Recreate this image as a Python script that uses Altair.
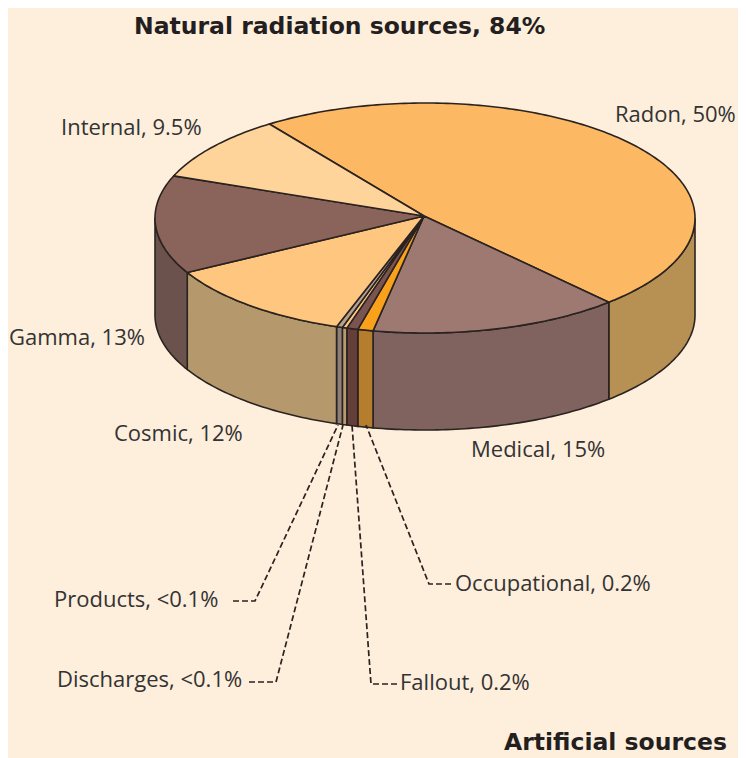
import math
import altair as alt
import pandas as pd

# Slices clockwise, as drawn in the picture
slices = ["Radon", "Medical", "Occupational", "Fallout", "Discharges", "Products", "Cosmic", "Gamma", "Internal"]
drawn_share = [47.86, 15.0, 0.92, 0.67, 0.28, 0.36, 11.83, 13.83, 9.25]
top_colors = ["#FDB863", "#9E7971", "#F9A11B", "#7B5350", "#FEC67E", "#B8A090", "#FEC67E", "#8A635A", "#FFD49B"]
side_colors = ["#B79153", "#80625E", "#B47E2E", "#643F3A", "#B59A6E", "#8E7F7A", "#B5996C", "#6C524D", "#6C524D"]
start_angle = -35.2

# Text labels
label_texts = ["Radon, 50%", "Internal, 9.5%", "Gamma, 13%", "Cosmic, 12%", "Medical, 15%",
               "Occupational, 0.2%", "Products, <0.1%", "Discharges, <0.1%", "Fallout, 0.2%"]
label_x = [615, 61, 9, 114, 471, 455, 54, 57, 400]
label_y = [115, 128, 338, 434, 450, 584, 600, 680, 683]

# Leader lines: label end, elbow, slice foot
leader_names = ["Products", "Discharges", "Fallout", "Occupational"]
leader_x = [[233, 255, 338], [249, 276, 343], [397, 371, 352], [451, 429, 366]]
leader_y = [[601, 601, 425], [682, 682, 425], [684, 684, 425], [584, 584, 425]]

CX, CY, RX, RY, DEPTH = 425, 218, 270, 115, 97
APEX = (424, 216)
BG = "#FEEEDC"
INK = "#2A2320"
FONT = "Open Sans"

xs = alt.Scale(domain=[8, 738])
ys = alt.Scale(domain=[758, 8])


def rim(t, drop=0):
    r = math.radians(t)
    return CX + RX * math.sin(r), CY - RY * math.cos(r) + drop


def arc_angles(a, b):
    n = max(2, int(abs(b - a)) + 2)
    return [a + (b - a) * i / (n - 1) for i in range(n)]


def polygon(points, fill, width=1.6):
    df = pd.DataFrame({"x": [p[0] for p in points], "y": [p[1] for p in points], "i": range(len(points))})
    return alt.Chart(df).mark_line(fill=fill, stroke=INK, strokeWidth=width, strokeJoin="round").encode(
        x=alt.X("x:Q", scale=xs, axis=None),
        y=alt.Y("y:Q", scale=ys, axis=None),
        order=alt.Order("i:Q"),
    )


bounds = [start_angle]
for s in drawn_share:
    bounds.append(bounds[-1] + s * 3.6)

layers = []
# Side walls: only the part of the rim facing the viewer
for i in range(len(slices)):
    a, b = max(bounds[i], 90), min(bounds[i + 1], 270)
    if a >= b:
        continue
    ang = arc_angles(a, b)
    pts = [rim(t) for t in ang] + [rim(t, DEPTH) for t in reversed(ang)]
    pts.append(pts[0])
    layers.append(polygon(pts, side_colors[i]))

# Top face
for i in range(len(slices)):
    ang = arc_angles(bounds[i], bounds[i + 1])
    pts = [APEX] + [rim(t) for t in ang] + [APEX]
    layers.append(polygon(pts, top_colors[i]))

# Leader lines
for name, lx, ly in zip(leader_names, leader_x, leader_y):
    df = pd.DataFrame({"x": lx, "y": ly, "i": range(len(lx))})
    layers.append(alt.Chart(df).mark_line(color=INK, strokeWidth=1.7, strokeDash=[6, 3]).encode(
        x=alt.X("x:Q", scale=xs, axis=None),
        y=alt.Y("y:Q", scale=ys, axis=None),
        order=alt.Order("i:Q"),
    ))

# Labels
labels = pd.DataFrame({"t": label_texts, "x": label_x, "y": label_y})
layers.append(alt.Chart(labels).mark_text(align="left", baseline="middle", font=FONT, fontSize=22, color="#333333").encode(
    x=alt.X("x:Q", scale=xs, axis=None), y=alt.Y("y:Q", scale=ys, axis=None), text="t:N"))

heads = pd.DataFrame({"t": ["Natural radiation sources, 84%", "Artificial sources"], "x": [134, 504], "y": [27, 743]})
layers.append(alt.Chart(heads).mark_text(align="left", baseline="middle", font="DejaVu Sans", fontSize=23.5, fontWeight="bold", color="#231F20").encode(
    x=alt.X("x:Q", scale=xs, axis=None), y=alt.Y("y:Q", scale=ys, axis=None), text="t:N"))

chart = alt.layer(*layers).properties(
    width=730, height=750, background=BG, padding=0, autosize=alt.AutoSizeParams(type="none")
).configure_view(stroke=None)

chart.save("out.html", embed_options={"renderer": "svg", "actions": False})
